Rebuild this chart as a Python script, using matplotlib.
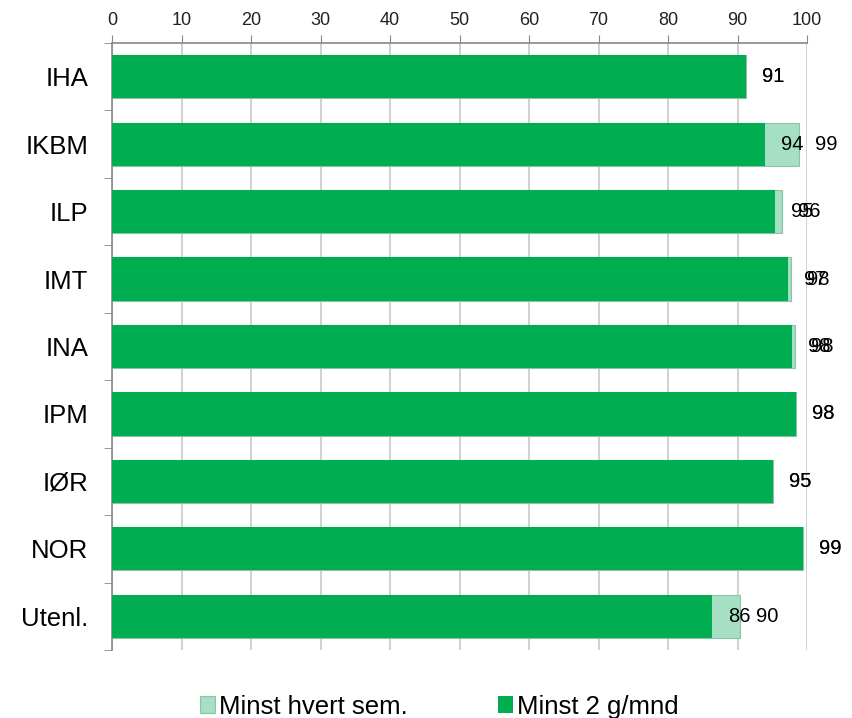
import matplotlib
matplotlib.use("Agg")
import matplotlib.pyplot as plt
import numpy as np

categories = ["IHA", "IKBM", "ILP", "IMT", "INA", "IPM", "IØR", "NOR", "Utenl."]
minst_2_g_mnd = [91.2, 94.0, 95.4, 97.3, 97.8, 98.4, 95.1, 99.4, 86.4]
minst_hvert_sem = [91.2, 98.8, 96.4, 97.7, 98.3, 98.4, 95.1, 99.4, 90.4]
x_ticks = [0, 10, 20, 30, 40, 50, 60, 70, 80, 90, 100]

DARK = "#00AD50"
LIGHT = "#A6E0C4"
GRID = "#C8C8C8"

plt.rcParams["font.family"] = ["Liberation Sans", "DejaVu Sans"]

fig = plt.figure(figsize=(8.53, 7.18), dpi=100)
ax = fig.add_axes([112 / 853, 1 - 650 / 718, 695 / 853, 607 / 718])

y = np.arange(len(categories))
bar_h = 0.64

light = ax.barh(y, minst_hvert_sem, height=bar_h, color=LIGHT,
                edgecolor="#8CC3A8", linewidth=0.8, label="Minst hvert sem.", zorder=2)
dark = ax.barh(y, minst_2_g_mnd, height=bar_h, color=DARK,
               linewidth=0, label="Minst 2 g/mnd", zorder=3)

# value labels just past the end of each bar (both series)
for vals in (minst_hvert_sem, minst_2_g_mnd):
    for yi, v in zip(y, vals):
        ax.annotate(f"{v:.0f}", (v, yi), xytext=(11.5, 0), textcoords="offset points",
                    ha="left", va="center", fontsize=14.5, color="black", zorder=4)

ax.set_xlim(0, 100)
ax.set_ylim(len(categories) - 0.5, -0.5)
ax.xaxis.tick_top()
ax.set_xticks(x_ticks)
ax.set_xticklabels([str(t) for t in x_ticks], fontsize=13,
                   family=["Liberation Sans Narrow", "Liberation Sans"], color="#222222")
ax.tick_params(axis="x", direction="out", length=6, color="#888888", pad=4)
ax.xaxis.grid(True, color=GRID, linewidth=1.2, zorder=0)
ax.set_axisbelow(True)

ax.set_yticks(y)
ax.set_yticklabels(categories, fontsize=18.5)
ax.set_yticks(np.arange(len(categories) + 1) - 0.5, minor=True)
ax.tick_params(axis="y", which="major", length=0, pad=17)
ax.tick_params(axis="y", which="minor", direction="out", length=6, color="#888888")

for side in ["right", "bottom"]:
    ax.spines[side].set_visible(False)
for side in ["top", "left"]:
    ax.spines[side].set_color("#888888")
    ax.spines[side].set_linewidth(1.2)

fig.legend(handles=[light, dark], loc="center", bbox_to_anchor=(0.515, 0.016),
           ncol=2, frameon=False, fontsize=18.5, handlelength=0.6, handleheight=0.6,
           handletextpad=0.15, columnspacing=3.5)

fig.savefig("out.png", dpi=100)
